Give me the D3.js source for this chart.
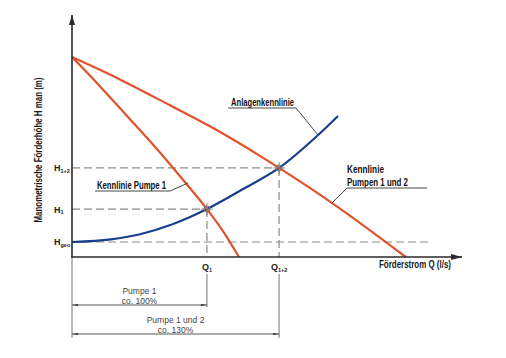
<!DOCTYPE html>
<html><head><meta charset="utf-8">
<script src="https://cdn.jsdelivr.net/npm/d3@7"></script>
<style>
html,body{margin:0;padding:0;background:#fff;}
svg{display:block;}
text{font-family:"Liberation Sans Narrow","Arial Narrow","Liberation Sans",sans-serif;}
</style></head>
<body>
<div id="chart"></div>
<script>
// Q in arbitrary units (0..100), H in arbitrary units (0..100)
const pump1Q  = [0, 7.2, 14, 22.0, 28.5, 34.6, 39.0, 42.8];
const pump1H  = [82.6, 70.5, 58.5, 44.2, 31.8, 19.8, 10.0, 0];
const pump12Q = [0, 12, 25, 37.2, 48.2, 53.1, 66.7, 85.6];
const pump12H = [82.6, 73.6, 62.8, 52.4, 41.8, 36.8, 22.3, 0];
const systemQ = [0, 10, 17.2, 25.6, 34.6, 44, 53.1, 63.1, 68.2];
const systemH = [6.2, 7.3, 9.3, 13.4, 19.8, 28.2, 36.8, 50.4, 58.3];
const opQ = [34.6, 53.1];         // Q1, Q1+2
const opH = [19.8, 36.8];         // H1, H1+2
const Hgeo = 6.2;
const HgeoEndQ = 91.8;
const yTickLabels = [["H","1+2"],["H","1"],["H","geo"]];
const xTickLabels = [["Q","1"],["Q","1+2"]];
const dimLabels = [["Pumpe 1","co. 100%"],["Pumpe 1 und 2","co. 130%"]];

const W = 506, H = 358;
const svg = d3.select("#chart").append("svg").attr("width", W).attr("height", H);
const x = d3.scaleLinear().domain([0, 100]).range([72, 462]);
const y = d3.scaleLinear().domain([0, 100]).range([257, 15]);

const orange = "#e0522a", blue = "#173f8e", dashGray = "#8a8a8a", axisCol = "#2a2a2a";

const defs = svg.append("defs");
defs.append("marker").attr("id","arrowEnd").attr("viewBox","0 0 10 6").attr("refX",10).attr("refY",3)
  .attr("markerWidth",6).attr("markerHeight",3.6).attr("orient","auto").attr("markerUnits","userSpaceOnUse")
  .append("path").attr("d","M0,1.5 L10,3 L0,4.5 Z").attr("fill","#333");
defs.append("marker").attr("id","arrowStart").attr("viewBox","0 0 10 6").attr("refX",0).attr("refY",3)
  .attr("markerWidth",6).attr("markerHeight",3.6).attr("orient","auto").attr("markerUnits","userSpaceOnUse")
  .append("path").attr("d","M10,1.5 L0,3 L10,4.5 Z").attr("fill","#333");

// dashed reference lines
const dash = "8,4";
function dline(x1,y1,x2,y2){
  svg.append("line").attr("x1",x1).attr("y1",y1).attr("x2",x2).attr("y2",y2)
    .attr("stroke",dashGray).attr("stroke-width",1.2).attr("stroke-dasharray",dash);
}
dline(x(0), y(opH[1]), x(opQ[1]), y(opH[1]));
dline(x(0), y(opH[0]), x(opQ[0]), y(opH[0]));
dline(x(0), y(Hgeo), x(HgeoEndQ), y(Hgeo));
dline(x(opQ[0]), y(opH[0]), x(opQ[0]), y(0));
dline(x(opQ[1]), y(opH[1]), x(opQ[1]), y(0));

// extension lines below axis
function thin(x1,y1,x2,y2,col){
  svg.append("line").attr("x1",x1).attr("y1",y1).attr("x2",x2).attr("y2",y2)
    .attr("stroke",col||"#666").attr("stroke-width",0.9);
}
thin(x(0), y(0), x(0), 338);
thin(x(opQ[0]), 274, x(opQ[0]), 307);
thin(x(opQ[1]), 274, x(opQ[1]), 338);

// dimension lines
const dimY = [305, 334];
[opQ[0], opQ[1]].forEach((q,i)=>{
  svg.append("line").attr("x1",x(0)).attr("y1",dimY[i]).attr("x2",x(q)).attr("y2",dimY[i])
    .attr("stroke","#444").attr("stroke-width",0.9)
    .attr("marker-start","url(#arrowStart)").attr("marker-end","url(#arrowEnd)");
  const cx = (x(0)+x(q))/2;
  svg.append("text").attr("x",cx).attr("y",dimY[i]-11).attr("text-anchor","middle")
    .attr("font-size",8.5).attr("fill","#444").attr("font-family","'DejaVu Sans', sans-serif")
    .style("font-weight","300").text(dimLabels[i][0]);
  svg.append("text").attr("x",cx).attr("y",dimY[i]-1).attr("text-anchor","middle")
    .attr("font-size",8.5).attr("fill","#444").attr("font-family","'DejaVu Sans', sans-serif")
    .text(dimLabels[i][1]);
});

// curves
const line = d3.line().x(d=>x(d[0])).y(d=>y(d[1])).curve(d3.curveMonotoneX);
svg.append("path").datum(systemQ.map((q,i)=>[q,systemH[i]])).attr("d",line)
  .attr("fill","none").attr("stroke",blue).attr("stroke-width",2.2);
svg.append("path").datum(pump1Q.map((q,i)=>[q,pump1H[i]])).attr("d",line)
  .attr("fill","none").attr("stroke",orange).attr("stroke-width",2.2);
svg.append("path").datum(pump12Q.map((q,i)=>[q,pump12H[i]])).attr("d",line)
  .attr("fill","none").attr("stroke",orange).attr("stroke-width",2.2);

// operating point markers
opQ.forEach((q,i)=>{
  const cx = x(q), cy = y(opH[i]);
  svg.append("circle").attr("cx",cx).attr("cy",cy).attr("r",3).attr("fill","none")
    .attr("stroke","#777").attr("stroke-width",1);
  thin(cx-6,cy,cx+6,cy,"#777");
  thin(cx,cy-6,cx,cy+6,"#777");
});

// axes
svg.append("line").attr("x1",x(0)).attr("y1",y(0)).attr("x2",x(0)).attr("y2",y(100))
  .attr("stroke",axisCol).attr("stroke-width",1.6);
svg.append("path").attr("d",`M${x(0)-3},${y(100)+10} L${x(0)},${y(100)} L${x(0)+3},${y(100)+10} Z`).attr("fill",axisCol);
svg.append("line").attr("x1",x(0)-1).attr("y1",y(0)).attr("x2",x(100)).attr("y2",y(0))
  .attr("stroke",axisCol).attr("stroke-width",1.6);
svg.append("path").attr("d",`M${x(100)-11},${y(0)-3} L${x(100)},${y(0)} L${x(100)-11},${y(0)+3} Z`).attr("fill",axisCol);

// tick labels
const yVals = [opH[1], opH[0], Hgeo];
yTickLabels.forEach((t,i)=>{
  const tx = svg.append("text").attr("x",54).attr("y",y(yVals[i])+3.5)
    .attr("font-size",9).attr("font-weight","bold").attr("fill","#222");
  tx.append("tspan").text(t[0]);
  tx.append("tspan").attr("font-size",5.5).attr("dy",1.5).text(t[1]);
});
xTickLabels.forEach((t,i)=>{
  const tx = svg.append("text").attr("x",x(opQ[i])).attr("y",y(0)+13).attr("text-anchor","middle")
    .attr("font-size",9).attr("font-weight","bold").attr("fill","#222");
  tx.append("tspan").text(t[0]);
  tx.append("tspan").attr("font-size",5.5).attr("dy",1.5).text(t[1]);
});

// axis titles
svg.append("text").attr("x",x(0)+307).attr("y",y(0)+11).attr("font-size",10.5).attr("font-weight","bold")
  .attr("fill","#1a1a1a").attr("textLength",72).attr("lengthAdjust","spacingAndGlyphs")
  .text("Förderstrom Q (l/s)");
svg.append("text").attr("transform","translate(42,150) rotate(-90)").attr("text-anchor","middle")
  .attr("font-size",10.5).attr("font-weight","bold").attr("fill","#1a1a1a")
  .attr("textLength",145).attr("lengthAdjust","spacingAndGlyphs")
  .text("Manometrische Förderhöhe H man (m)");

// curve labels with leaders
function label(lines, tx, ty, ulx1, ulx2, uly, lx, ly, wid){
  lines.forEach((s,i)=>{
    svg.append("text").attr("x",tx).attr("y",ty+i*13).attr("font-size",10.5).attr("font-weight","bold")
      .attr("fill","#111").attr("textLength",wid[i]).attr("lengthAdjust","spacingAndGlyphs").text(s);
  });
  thin(ulx1,uly,ulx2,uly,"#333");
  thin(Math.abs(lx-ulx1)<Math.abs(lx-ulx2)?ulx1:ulx2,uly,lx,ly,"#333");
}
label(["Anlagenkennlinie"], 231, 106, 228, 296, 108, 318, 135, [63]);
label(["Kennlinie Pumpe 1"], 97, 189, 95, 170, 191, 188, 183, [69]);
label(["Kennlinie","Pumpen 1 und 2"], 347, 173, 347, 427, 188, 332, 203, [37,61]);
</script>
</body></html>
